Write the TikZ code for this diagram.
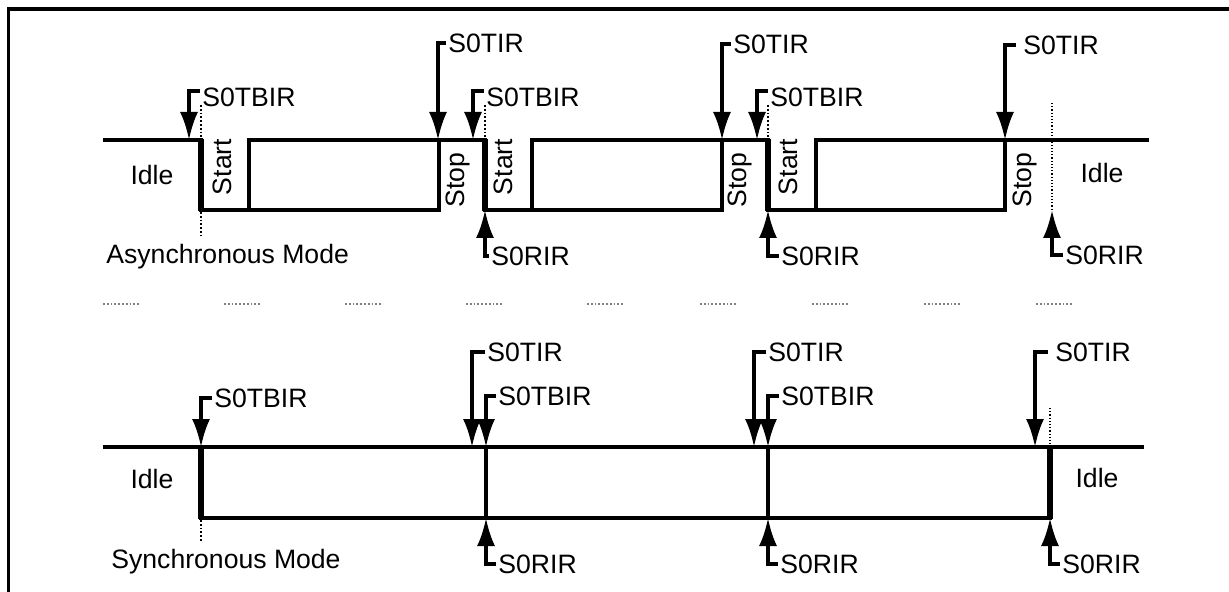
\documentclass[tikz,border=0pt]{standalone}
\usepackage{fontspec}
\setmainfont{Liberation Sans}
\usetikzlibrary{arrows.meta}
\tikzstyle{wave} = [line width=2pt, line cap=rect]
\tikzstyle{edge} = [line width=2.6pt]
\tikzstyle{flag} = [
    line width=1.6pt,
    -{Latex[length=14pt,width=9pt]}
]
\tikzstyle{tag} = [
    anchor=west,
    inner sep=1pt,
    font=\fontsize{13.3}{15}\selectfont
]
\tikzstyle{field} = [inner sep=0pt, font=\fontsize{13.3}{15}\selectfont]
\tikzstyle{bitname} = [field, rotate=90]
\tikzstyle{guide} = [densely dotted, line width=0.9pt]

\begin{document}
\begin{tikzpicture}[x=0.5pt, y=-0.5pt]

\useasboundingbox (0,0) rectangle (1229,592);
\draw [line width=1.6pt] (8.5,9) rectangle (1240,605);

% asynchronous mode
\draw [wave] (105,140) -- (201,140);
\draw [wave] (201,210) -- (439,210) -- (439,140);
\draw [wave] (249,210) -- (249,140) -- (485,140);
\draw [wave] (485,210) -- (722,210) -- (722,140);
\draw [wave] (532,210) -- (532,140) -- (768,140);
\draw [wave] (768,210) -- (1005,210) -- (1005,140);
\draw [wave] (816,210) -- (816,140) -- (1147,140);
\draw [edge] (201,139) -- (201,211);
\draw [edge] (485,139) -- (485,211);
\draw [edge] (768,139) -- (768,211);

\draw [guide] (201,105) -- (201,138);
\draw [guide] (201,212) -- (201,236);
\draw [guide] (485,105) -- (485,138);
\draw [guide] (768,105) -- (768,138);
\draw [guide, line width=0.6pt] (1052,103) -- (1052,210);

\node (aidle) [field] at (152,175) {Idle};
\node (astart1) [bitname] at (222,167) {Start};
\node (astop1) [bitname] at (458,180) {Stop};
\node (astart2) [bitname] at (503,167) {Start};
\node (astop2) [bitname] at (740,180) {Stop};
\node (astart3) [bitname] at (788,167) {Start};
\node (astop3) [bitname] at (1025,180) {Stop};
\node (aidle2) [field] at (1102,173) {Idle};
\node (amode) [tag] at (104,257) {Asynchronous Mode};

\coordinate (atb1) at (189,140);
\coordinate (ati1) at (438,140);
\coordinate (atb2) at (473,140);
\coordinate (ari1) at (485,210);
\coordinate (ati2) at (722,140);
\coordinate (atb3) at (757,140);
\coordinate (ari2) at (768,210);
\coordinate (ati3) at (1005,140);
\coordinate (ari3) at (1052,210);

\node (atb1l) [tag] at (200,97) {S0TBIR};
\node (ati1l) [tag] at (446,43) {S0TIR};
\node (atb2l) [tag] at (484,97) {S0TBIR};
\node (ari1l) [tag] at (489,256) {S0RIR};
\node (ati2l) [tag] at (731,44) {S0TIR};
\node (atb3l) [tag] at (768,97) {S0TBIR};
\node (ari2l) [tag] at (779,256) {S0RIR};
\node (ati3l) [tag] at (1021,45) {S0TIR};
\node (ari3l) [tag] at (1063,255) {S0RIR};

\draw [flag] ([yshift=3pt]atb1l.west) -| (atb1);
\draw [flag] (ati1l.west) -| (ati1);
\draw [flag] ([yshift=3pt]atb2l.west) -| (atb2);
\draw [flag] (ari1l.west) -| (ari1);
\draw [flag] (ati2l.west) -| (ati2);
\draw [flag] ([yshift=3pt]atb3l.west) -| (atb3);
\draw [flag] (ari2l.west) -| (ari2);
\draw [flag] ([xshift=-2.5pt]ati3l.west) -| (ati3);
\draw [flag] (ari3l.west) -| (ari3);

% separator
\foreach \x in {103,224,345,466,587,700,812,924,1036}
    \draw [guide, gray] (\x,304) -- (\x+36,304);

% synchronous mode
\draw [wave] (105,447) -- (1142,447);
\draw [wave] (201,518) -- (1050,518);
\draw [edge] (201,446) -- (201,519);
\draw [wave] (486,447) -- (486,518);
\draw [wave] (768,447) -- (768,518);
\draw [edge] (1050,446) -- (1050,519);

\draw [guide] (201,520) -- (201,541);
\draw [guide, line width=0.6pt] (1050,408) -- (1050,445);

\node (sidle) [field] at (152,479) {Idle};
\node (sidle2) [field] at (1097,478) {Idle};
\node (smode) [tag] at (109,562) {Synchronous Mode};

\coordinate (stb1) at (201,447);
\coordinate (sti1) at (472,447);
\coordinate (stb2) at (486,447);
\coordinate (sri1) at (486,518);
\coordinate (sti2) at (754,447);
\coordinate (stb3) at (768,447);
\coordinate (sri2) at (768,518);
\coordinate (sti3) at (1035,447);
\coordinate (sri3) at (1050,518);

\node (stb1l) [tag] at (212,398) {S0TBIR};
\node (sti1l) [tag] at (485,352) {S0TIR};
\node (stb2l) [tag] at (496,396) {S0TBIR};
\node (sri1l) [tag] at (496,564) {S0RIR};
\node (sti2l) [tag] at (766,352) {S0TIR};
\node (stb3l) [tag] at (779,396) {S0TBIR};
\node (sri2l) [tag] at (778,564) {S0RIR};
\node (sti3l) [tag] at (1053,352) {S0TIR};
\node (sri3l) [tag] at (1060,564) {S0RIR};

\draw [flag] (stb1l.west) -| (stb1);
\draw [flag] (sti1l.west) -| (sti1);
\draw [flag] (stb2l.west) -| (stb2);
\draw [flag] (sri1l.west) -| (sri1);
\draw [flag] (sti2l.west) -| (sti2);
\draw [flag] (stb3l.west) -| (stb3);
\draw [flag] (sri2l.west) -| (sri2);
\draw [flag] ([xshift=-2.5pt]sti3l.west) -| (sti3);
\draw [flag] (sri3l.west) -| (sri3);

\end{tikzpicture}
\end{document}
